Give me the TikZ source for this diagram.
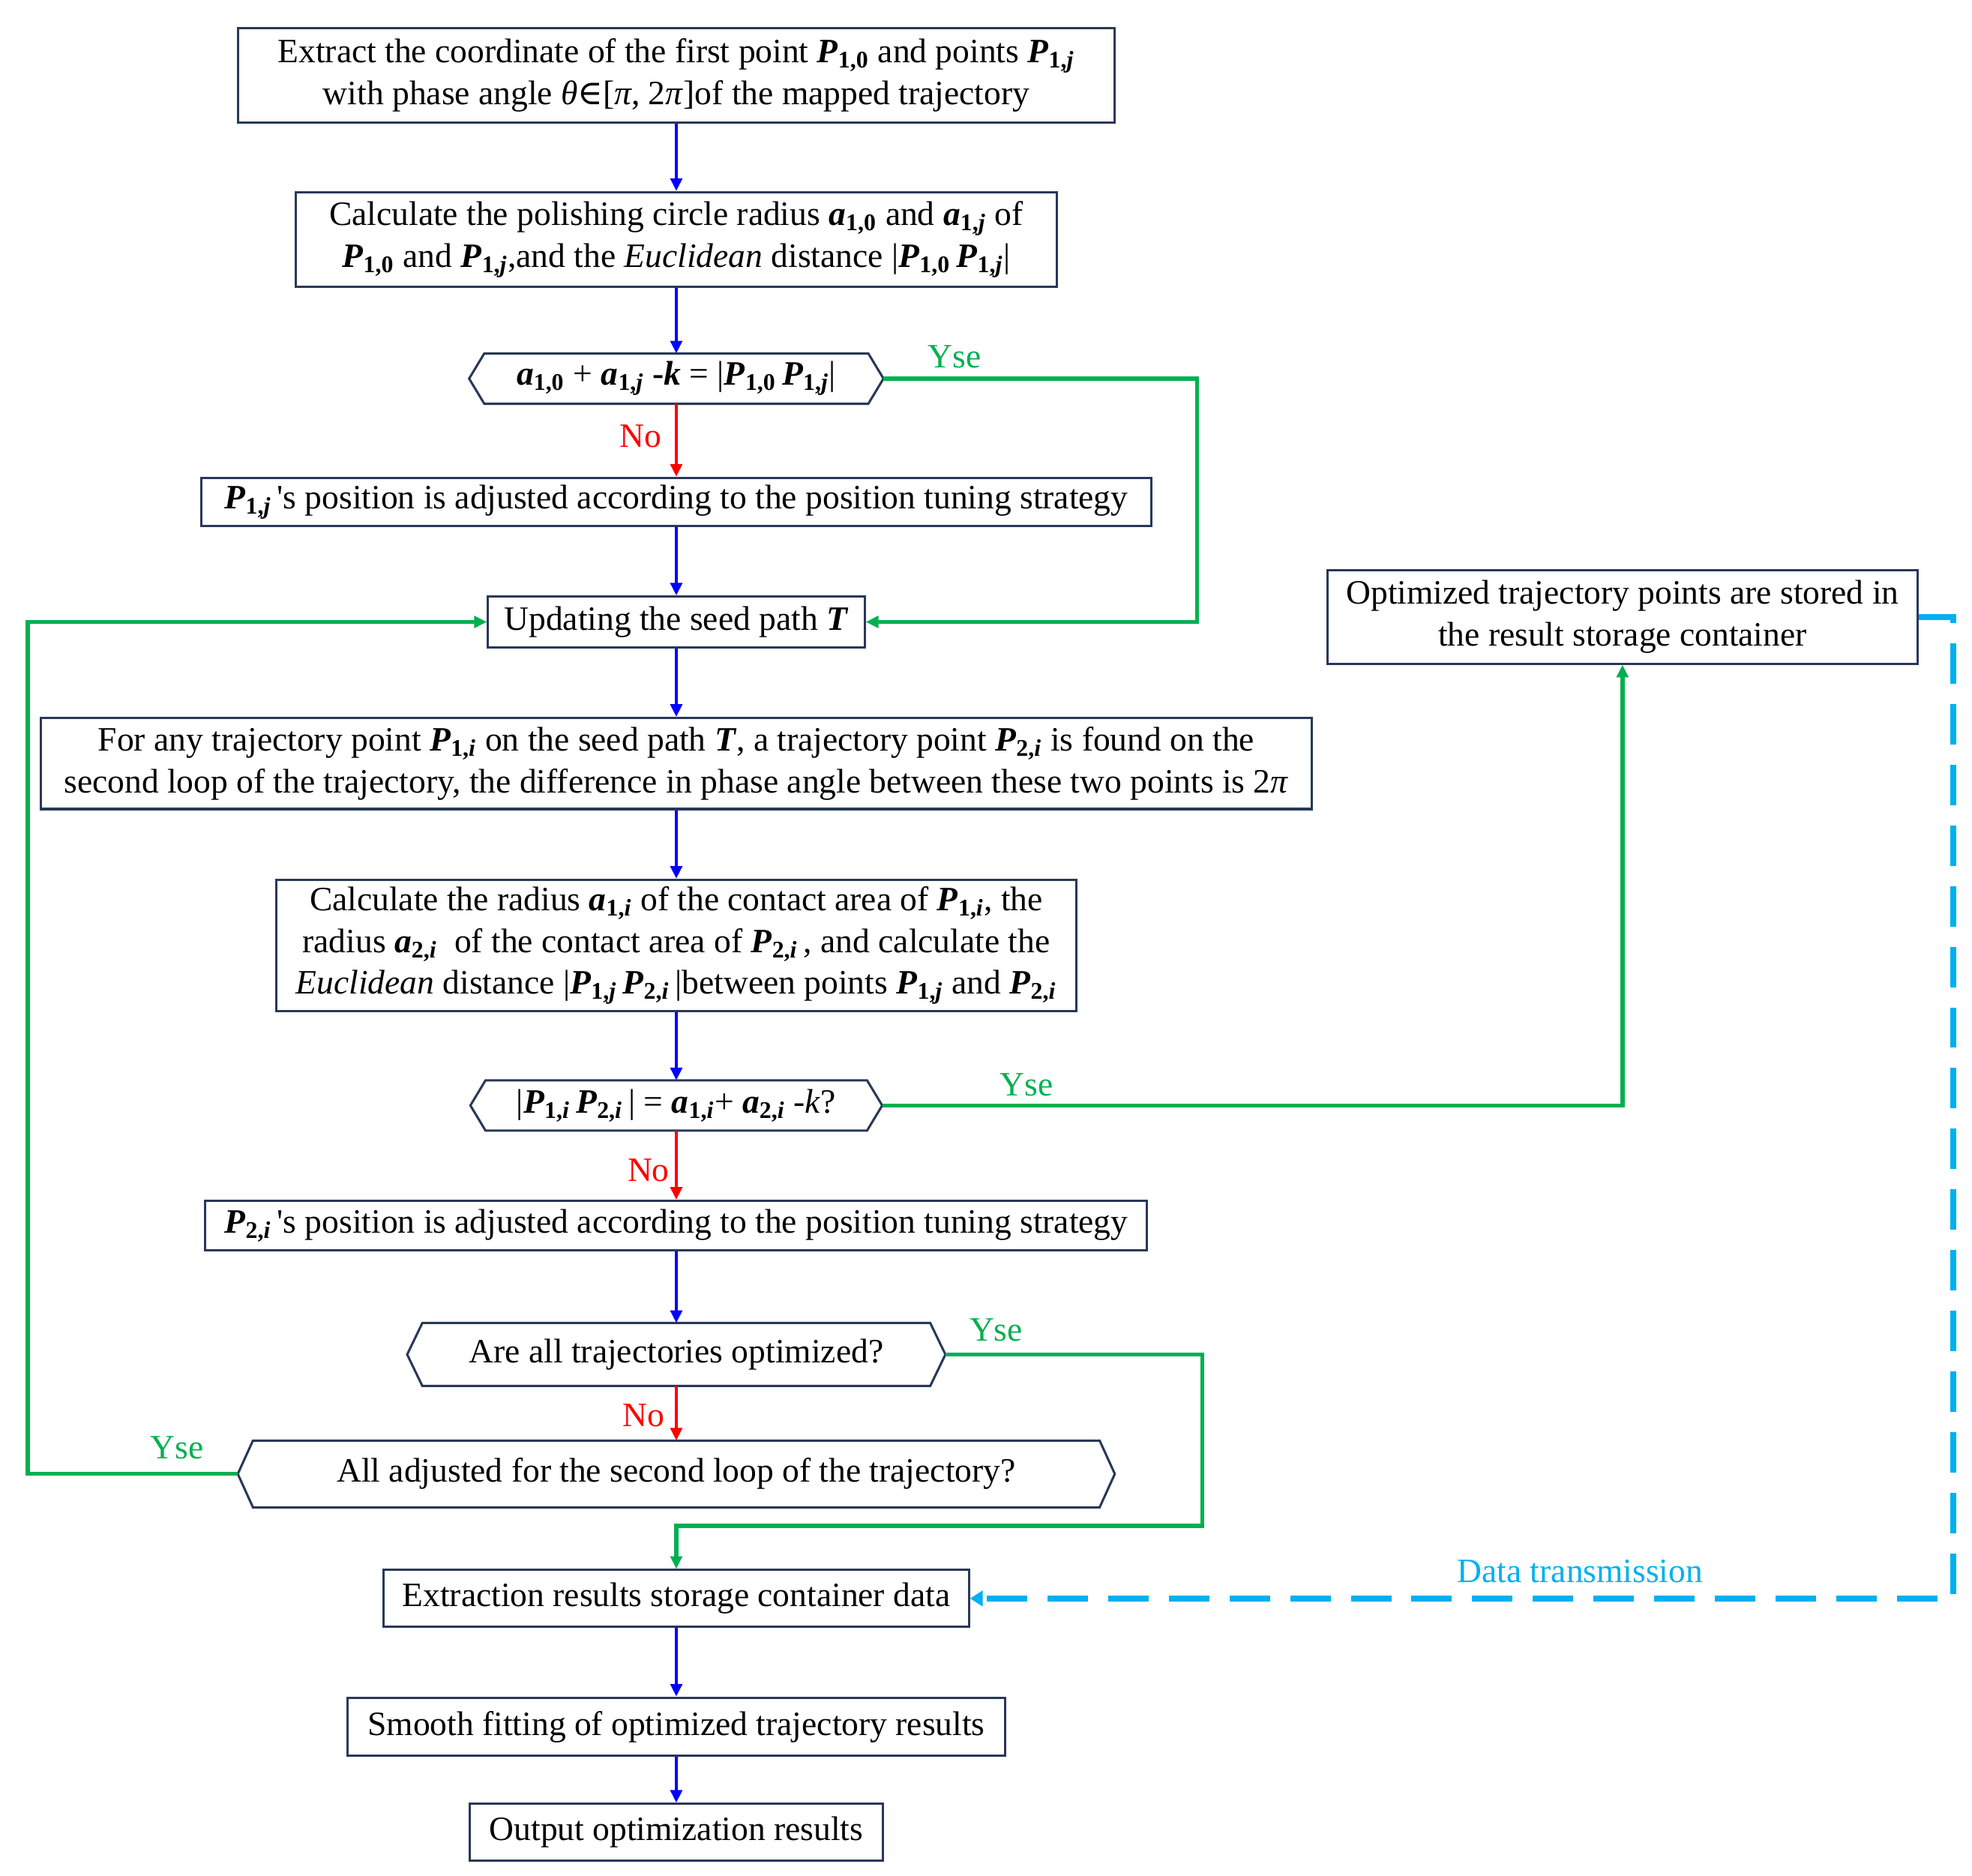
\documentclass[tikz,border=0pt]{standalone}
\usepackage{fontspec}
\setmainfont{Liberation Serif}
\newfontfamily\symfont{DejaVu Serif}
\usetikzlibrary{arrows.meta}
\newcommand{\Pp}[1]{\textbf{\textit{P}\textsubscript{#1}}}
\newcommand{\Aa}[1]{\textbf{\textit{a}\textsubscript{#1}}}
\definecolor{boxc}{RGB}{40,56,88}
\definecolor{gr}{RGB}{0,176,80}
\definecolor{cy}{RGB}{0,176,240}
\tikzset{
  txt/.style={font=\fontsize{13.5}{16.5}\selectfont, align=center, inner sep=0pt},
  box/.style={txt, draw=boxc, line width=0.9pt, fill=white},
  hexa/.style={txt},
  hexline/.style={draw=boxc, line width=0.9pt},
  arr/.style={line width=1.4pt, -{Triangle[length=5pt,width=4.6pt]}},
  barr/.style={arr, blue},
  rarr/.style={arr, red},
  garr/.style={line width=1.6pt, gr, -{Triangle[length=5pt,width=4.6pt]}},
  carr/.style={line width=2.4pt, cy, dash pattern=on 16pt off 8pt, -{Triangle[length=5pt,width=6pt]}},
  glab/.style={txt, text=gr},
  rlab/.style={txt, text=red},
  clab/.style={txt, text=cy}
}
\newcommand{\hexdraw}[1]{\draw[hexline] ([xshift=6pt]#1.north west) -- ([xshift=-6pt]#1.north east) -- (#1.east) -- ([xshift=-6pt]#1.south east) -- ([xshift=6pt]#1.south west) -- (#1.west) -- cycle;}
\begin{document}
\begin{tikzpicture}[x=0.5pt,y=-0.5pt]
\useasboundingbox (0,0) rectangle (1560,1484);

\node[box, minimum width=346.5pt, minimum height=37.5pt] (b1) at (535,59.5)
  {Extract the coordinate of the first point \Pp{1,0} and points \Pp{1,\textit{j}}\\
   with phase angle \textit{θ}{\symfont ∈}[\textit{π}, 2\textit{π}]of the mapped trajectory};
\node[box, minimum width=301pt, minimum height=37.5pt] (b2) at (535,189.5)
  {Calculate the polishing circle radius \Aa{1,0} and \Aa{1,\textit{j}} of\\
   \Pp{1,0} and \Pp{1,\textit{j}},and the \textit{Euclidean} distance |\Pp{1,0}\,\Pp{1,\textit{j}}|};
\node[hexa, minimum width=163.5pt, minimum height=19.5pt] (h1) at (535,299.5)
  {\Aa{1,0} + \Aa{1,\textit{j}} \textbf{-\textit{k}} = |\Pp{1,0}\,\Pp{1,\textit{j}}|};
\hexdraw{h1}
\node[box, minimum width=375.5pt, minimum height=19pt] (b3) at (535,397)
  {\Pp{1,\textit{j}}\,\textquotesingle s position is adjusted according to the position tuning strategy};
\node[box, minimum width=149pt, minimum height=20pt] (b4) at (535,492)
  {Updating the seed path \textbf{\textit{T}}};
\node[box, minimum width=502.5pt, minimum height=36pt] (b5) at (535,604)
  {For any trajectory point \Pp{1,\textit{i}} on the seed path \textbf{\textit{T}}, a trajectory point \Pp{2,\textit{i}} is found on the\\
   second loop of the trajectory, the difference in phase angle between these two points is 2\textit{π}};
\node[box, minimum width=316.5pt, minimum height=52pt] (b6) at (535,748)
  {Calculate the radius \Aa{1,\textit{i}} of the contact area of \Pp{1,\textit{i}}, the\\
   radius \Aa{2,\textit{i}}\ \ of the contact area of \Pp{2,\textit{i}}\,, and calculate the\\
   \textit{Euclidean} distance |\Pp{1,\textit{j}}\,\Pp{2,\textit{i}}\,|between points \Pp{1,\textit{j}} and \Pp{2,\textit{i}}};
\node[hexa, minimum width=162.5pt, minimum height=19.5pt] (h2) at (535,874.5)
  {|\Pp{1,\textit{i}}\,\Pp{2,\textit{i}}\,| = \Aa{1,\textit{i}}+ \Aa{2,\textit{i}} -\textit{k}?};
\hexdraw{h2}
\node[box, minimum width=372.5pt, minimum height=19.5pt] (b7) at (535,969.5)
  {\Pp{2,\textit{i}}\,\textquotesingle s position is adjusted according to the position tuning strategy};
\node[hexa, minimum width=212.5pt, minimum height=24.5pt] (h3) at (535,1071.5)
  {Are all trajectories optimized?};
\hexdraw{h3}
\node[hexa, minimum width=346.5pt, minimum height=26pt] (h4) at (535,1166)
  {All adjusted for the second loop of the trajectory?};
\hexdraw{h4}
\node[box, minimum width=231.5pt, minimum height=22.5pt] (b8) at (535,1264.5)
  {Extraction results storage container data};
\node[box, minimum width=260pt, minimum height=23pt] (b9) at (535,1366)
  {Smooth fitting of optimized trajectory results};
\node[box, minimum width=163.5pt, minimum height=22.5pt] (b10) at (535,1449.5)
  {Output optimization results};
\node[box, minimum width=233.5pt, minimum height=37pt] (opt) at (1283.5,488)
  {Optimized trajectory points are stored in\\ the result storage container};

% blue arrows
\draw[barr] (b1) -- (b2);
\draw[barr] (b2) -- (h1);
\draw[barr] (b3) -- (b4);
\draw[barr] (b4) -- (b5);
\draw[barr] (b5) -- (b6);
\draw[barr] (b6) -- (h2);
\draw[barr] (b7) -- (h3);
\draw[barr] (b8) -- (b9);
\draw[barr] (b9) -- (b10);
% red arrows
\draw[rarr] (h1) -- (b3);
\draw[rarr] (h2) -- (b7);
\draw[rarr] (h3) -- (h4);
% green
\coordinate (g1a) at (947,299.5);
\coordinate (g1b) at (947,492);
\draw[garr] (h1.east) -- (g1a) -- (g1b) -- (b4.east);
\coordinate (g2a) at (1283.5,874.5);
\draw[garr] (h2.east) -- (g2a) -- (opt.south);
\coordinate (g3a) at (951,1071.5);
\coordinate (g3b) at (951,1207);
\coordinate (g3c) at (535,1207);
\draw[garr] (h3.east) -- (g3a) -- (g3b) -- (g3c) -- (b8.north);
\coordinate (g4a) at (22,1166);
\coordinate (g4b) at (22,492);
\draw[garr] (h4.west) -- (g4a) -- (g4b) -- (b4.west);
% cyan dashed
\coordinate (c1) at (1545,488);
\coordinate (c2) at (1545,1264.5);
\draw[carr] (opt.east) -- (c1) -- (c2) -- (b8.east);

% labels
\node[glab] (y1) at (755,282) {Yse};
\node[rlab] (n1) at (507,345) {No};
\node[glab] (y2) at (812,858) {Yse};
\node[rlab] (n2) at (513,926) {No};
\node[glab] (y3) at (788,1052) {Yse};
\node[rlab] (n3) at (509,1120) {No};
\node[glab] (y4) at (140,1145) {Yse};
\node[clab] (dt) at (1250,1243) {Data transmission};
\end{tikzpicture}
\end{document}
